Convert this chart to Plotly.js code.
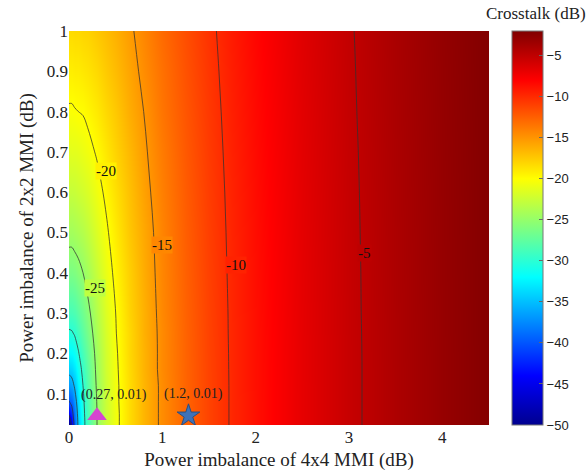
<!DOCTYPE html>
<html>
<head>
<meta charset="utf-8">
<script src="https://cdn.plot.ly/plotly-3.0.1.min.js"></script>
<style>html,body{margin:0;padding:0;background:#fff;}#chart{width:588px;height:476px;}</style>
</head>
<body>
<div id="chart"></div>
<script>
// Power imbalance of 4x4 MMI (dB)
const imb4x4 = [0, 0.03, 0.06, 0.1, 0.15, 0.2, 0.3, 0.4, 0.5, 0.65, 0.8, 1.0, 1.25, 1.5, 1.75, 2.0, 2.5, 3.0, 3.5, 4.0, 4.5];
// Power imbalance of 2x2 MMI (dB)
const imb2x2 = [0.01, 0.03, 0.05, 0.08, 0.12, 0.16, 0.2, 0.25, 0.3, 0.4, 0.5, 0.6, 0.7, 0.8, 0.9, 1.0];
// Crosstalk (dB), one row per 2x2 imbalance value
const crosstalk = [
  [-58.3, -44.8, -38.9, -34.5, -31.0, -28.5, -25.0, -22.5, -20.6, -18.3, -16.5, -14.6, -12.68, -11.12, -9.81, -8.69, -6.83, -5.34, -4.12, -3.08, -2.20],
  [-48.7, -43.5, -38.6, -34.4, -31.0, -28.5, -25.0, -22.5, -20.6, -18.3, -16.5, -14.6, -12.68, -11.12, -9.81, -8.69, -6.83, -5.34, -4.12, -3.08, -2.20],
  [-44.3, -41.6, -37.9, -34.1, -30.8, -28.4, -25.0, -22.5, -20.6, -18.3, -16.5, -14.6, -12.68, -11.12, -9.81, -8.69, -6.83, -5.34, -4.12, -3.08, -2.20],
  [-40.2, -39.0, -36.5, -33.5, -30.5, -28.3, -24.9, -22.5, -20.5, -18.3, -16.5, -14.6, -12.67, -11.12, -9.81, -8.69, -6.83, -5.34, -4.12, -3.08, -2.20],
  [-36.7, -36.1, -34.7, -32.5, -30.0, -27.9, -24.7, -22.4, -20.5, -18.3, -16.5, -14.6, -12.66, -11.11, -9.81, -8.68, -6.83, -5.34, -4.12, -3.08, -2.20],
  [-34.2, -33.8, -32.9, -31.4, -29.3, -27.5, -24.5, -22.2, -20.4, -18.2, -16.4, -14.5, -12.65, -11.10, -9.80, -8.68, -6.82, -5.34, -4.12, -3.08, -2.20],
  [-32.2, -32.0, -31.4, -30.2, -28.6, -27.0, -24.3, -22.1, -20.3, -18.1, -16.4, -14.5, -12.63, -11.09, -9.79, -8.67, -6.82, -5.34, -4.11, -3.08, -2.20],
  [-30.3, -30.2, -29.8, -28.9, -27.6, -26.3, -23.9, -21.9, -20.1, -18.1, -16.3, -14.5, -12.61, -11.07, -9.77, -8.66, -6.81, -5.33, -4.11, -3.07, -2.19],
  [-28.7, -28.6, -28.3, -27.7, -26.7, -25.6, -23.5, -21.6, -20.0, -17.9, -16.3, -14.4, -12.57, -11.05, -9.76, -8.64, -6.80, -5.32, -4.10, -3.07, -2.19],
  [-26.2, -26.2, -26.0, -25.6, -25.0, -24.2, -22.6, -21.0, -19.5, -17.7, -16.1, -14.3, -12.49, -10.99, -9.71, -8.61, -6.78, -5.31, -4.09, -3.06, -2.18],
  [-24.3, -24.3, -24.1, -23.9, -23.5, -22.9, -21.6, -20.3, -19.0, -17.3, -15.9, -14.2, -12.39, -10.92, -9.66, -8.57, -6.75, -5.29, -4.08, -3.05, -2.17],
  [-22.7, -22.7, -22.6, -22.4, -22.1, -21.7, -20.7, -19.6, -18.5, -17.0, -15.6, -14.0, -12.27, -10.83, -9.60, -8.52, -6.72, -5.27, -4.06, -3.04, -2.16],
  [-21.4, -21.3, -21.3, -21.2, -20.9, -20.6, -19.8, -18.9, -17.9, -16.6, -15.3, -13.8, -12.13, -10.73, -9.52, -8.46, -6.68, -5.24, -4.04, -3.02, -2.15],
  [-20.2, -20.2, -20.1, -20.0, -19.9, -19.6, -19.0, -18.2, -17.4, -16.1, -15.0, -13.5, -11.97, -10.62, -9.43, -8.39, -6.64, -5.20, -4.01, -3.00, -2.13],
  [-19.2, -19.2, -19.1, -19.1, -18.9, -18.7, -18.2, -17.5, -16.8, -15.7, -14.6, -13.3, -11.80, -10.49, -9.34, -8.32, -6.58, -5.17, -3.98, -2.98, -2.11],
  [-18.3, -18.3, -18.2, -18.2, -18.0, -17.9, -17.4, -16.9, -16.3, -15.3, -14.3, -13.0, -11.62, -10.36, -9.23, -8.23, -6.53, -5.13, -3.95, -2.95, -2.09]
];
// contour labels (level text and where they sit on the lines)
const contourLabels = ['-25', '-20', '-15', '-10', '-5'];
const contourLabelX = [0.28, 0.40, 1.00, 1.79, 3.17];
const contourLabelY = [0.363, 0.652, 0.468, 0.42, 0.448];
// marked design points (as drawn) and their labels
const markX = [0.3, 1.28];
const markY = [0.045, 0.045];
const markLabels = ['(0.27, 0.01)', '(1.2, 0.01)'];
const markLabelX = [0.48, 1.33];
const markLabelY = [0.096, 0.1];
// tick values
const xTicks = [0, 1, 2, 3, 4];
const yTicks = [0.1, 0.2, 0.3, 0.4, 0.5, 0.6, 0.7, 0.8, 0.9, 1];
const cbTicks = [-50, -45, -40, -35, -30, -25, -20, -15, -10, -5];

// styles
const labelBg = ['rgb(190,255,65)', 'rgb(255,240,0)', 'rgb(255,135,0)', 'rgb(255,34,0)', 'rgb(189,0,0)'];
const jet = [[0, '#00008f'], [0.125, '#0000ff'], [0.375, '#00ffff'], [0.625, '#ffff00'], [0.875, '#ff0000'], [1, '#800000']];
const serif = '"Liberation Serif", "Times New Roman", serif';

const traces = [
  {
    type: 'heatmap', x: imb4x4, y: imb2x2, z: crosstalk, zsmooth: 'best',
    colorscale: jet, zmin: -50, zmax: -2, hoverinfo: 'skip',
    colorbar: {
      x: 1.055, xanchor: 'left', xpad: 0, ypad: 0, y: 0.5, yanchor: 'middle',
      len: 1, lenmode: 'fraction', thickness: 31, thicknessmode: 'pixels',
      outlinewidth: 1, outlinecolor: '#777',
      tickmode: 'array', tickvals: cbTicks, ticks: 'inside', ticklen: 4, tickcolor: '#666',
      tickfont: {family: '"Liberation Sans", Arial, sans-serif', size: 13, color: '#222'}
    }
  },
  {
    type: 'contour', x: imb4x4, y: imb2x2, z: crosstalk, showscale: false, hoverinfo: 'skip',
    contours: {coloring: 'none', start: -45, end: -5, size: 5, showlabels: false},
    line: {color: 'rgba(50,50,50,0.75)', width: 1, smoothing: 1}
  },
  {
    type: 'scatter', mode: 'markers', x: [markX[0]], y: [markY[0]], hoverinfo: 'skip',
    marker: {symbol: 'triangle-up', size: 17, color: '#d545cf', line: {width: 0}}
  },
  {
    type: 'scatter', mode: 'markers', x: [markX[1]], y: [markY[1]], hoverinfo: 'skip',
    marker: {symbol: 'star', size: 17, color: '#3f72b8', line: {width: 1, color: '#2b4e80'}}
  }
];

const annotations = markLabels.map((t, i) => ({
  x: markLabelX[i], y: markLabelY[i], xref: 'x', yref: 'y', text: t, showarrow: false,
  font: {family: serif, size: 14, color: '#222'}
}));
contourLabels.forEach((t, i) => annotations.push({
  x: contourLabelX[i], y: contourLabelY[i], xref: 'x', yref: 'y', text: t, showarrow: false,
  bgcolor: labelBg[i], borderpad: 0,
  font: {family: serif, size: 15, color: '#111'}
}));
annotations.push({
  x: 1.112, y: 1.045, xref: 'paper', yref: 'paper', text: 'Crosstalk (dB)', showarrow: false,
  xanchor: 'center', yanchor: 'middle', font: {family: serif, size: 17, color: '#222'}
});

const layout = {
  width: 588, height: 476,
  margin: {l: 69, r: 99, t: 31, b: 51},
  paper_bgcolor: '#fff', plot_bgcolor: '#fff',
  showlegend: false,
  xaxis: {
    range: [0, 4.5], tickmode: 'array', tickvals: xTicks, ticks: '', showgrid: false, zeroline: false,
    showline: false, tickfont: {family: serif, size: 17, color: '#222'},
    title: {text: 'Power imbalance of 4x4 MMI (dB)', font: {family: serif, size: 19, color: '#222'}, standoff: 6}
  },
  yaxis: {
    range: [0.022, 1], tickmode: 'array', tickvals: yTicks, ticks: '', showgrid: false, zeroline: false,
    showline: false, tickfont: {family: serif, size: 17, color: '#222'},
    title: {text: 'Power imbalance of 2x2 MMI (dB)', font: {family: serif, size: 19, color: '#222'}, standoff: 8}
  },
  annotations: annotations
};

Plotly.newPlot('chart', traces, layout, {displayModeBar: false, staticPlot: true});
</script>
</body>
</html>
